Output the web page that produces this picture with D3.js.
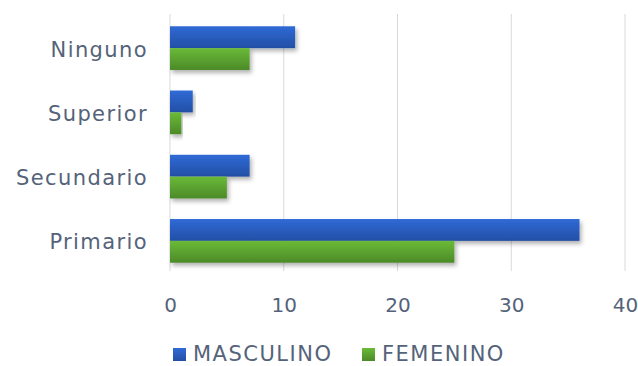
<!DOCTYPE html>
<html>
<head>
<meta charset="utf-8">
<script src="https://cdn.jsdelivr.net/npm/d3@7"></script>
<style>
  html, body { margin: 0; padding: 0; background: #fff; }
  svg { display: block; }
</style>
</head>
<body>
<svg id="chart" width="638" height="366"></svg>
<script>
// Education level by sex
const categories = ["Ninguno", "Superior", "Secundario", "Primario"];
const seriesNames = ["MASCULINO", "FEMENINO"];
const masculino = [11, 2, 7, 36];
const femenino = [7, 1, 5, 25];
const xTicks = [0, 10, 20, 30, 40];

const svg = d3.select("#chart");
const plotLeft = 170, plotRight = 625, plotTop = 16, plotBottom = 273;
const textColor = "#54637a";
const fontFamily = "'DejaVu Sans', Lato, sans-serif";

const x = d3.scaleLinear().domain([0, 40]).range([plotLeft, plotRight]);
const y = d3.scaleBand().domain(categories).range([plotTop, plotBottom]).paddingInner(0.32).paddingOuter(0.16);
const ySub = d3.scaleBand().domain(seriesNames).range([0, y.bandwidth()]);

const defs = svg.append("defs");
const grads = [
  { id: "gBlue", c0: "#2f6ad6", c1: "#234fa5" },
  { id: "gGreen", c0: "#6aba38", c1: "#4c8a28" }
];
grads.forEach(g => {
  const lg = defs.append("linearGradient").attr("id", g.id)
    .attr("x1", 0).attr("y1", 0).attr("x2", 0).attr("y2", 1);
  lg.append("stop").attr("offset", "0%").attr("stop-color", g.c0);
  lg.append("stop").attr("offset", "100%").attr("stop-color", g.c1);
});
const f = defs.append("filter").attr("id", "shadow")
  .attr("x", "-5%").attr("y", "-20%").attr("width", "115%").attr("height", "160%");
f.append("feDropShadow").attr("dx", 2).attr("dy", 3).attr("stdDeviation", 2)
  .attr("flood-color", "#000").attr("flood-opacity", 0.3);

// vertical gridlines
svg.append("g").selectAll("line").data(xTicks).join("line")
  .attr("x1", d => x(d)).attr("x2", d => x(d))
  .attr("y1", plotTop - 2).attr("y2", plotBottom - 2)
  .attr("stroke", "#d9d9d9").attr("stroke-width", 1);

const series = [
  { name: "MASCULINO", values: masculino, fill: "url(#gBlue)" },
  { name: "FEMENINO", values: femenino, fill: "url(#gGreen)" }
];

const bars = svg.append("g");
series.forEach(s => {
  bars.append("g").selectAll("rect").data(categories).join("rect")
    .attr("x", x(0))
    .attr("y", (c) => y(c) + ySub(s.name))
    .attr("width", (c, i) => x(s.values[i]) - x(0))
    .attr("height", ySub.bandwidth())
    .attr("fill", s.fill)
    .attr("filter", "url(#shadow)");
});

// category axis
const yAxis = svg.append("g").attr("transform", `translate(${plotLeft},0)`)
  .call(d3.axisLeft(y).tickSize(0).tickPadding(22));
yAxis.select(".domain").remove();
yAxis.attr("font-family", fontFamily);
yAxis.selectAll("text").attr("fill", textColor).attr("font-size", 21)
  .attr("letter-spacing", 1.4).attr("dy", "0.4em");

// value axis
const xAxis = svg.append("g").attr("transform", `translate(0,${plotBottom + 18})`)
  .call(d3.axisBottom(x).tickValues(xTicks).tickSize(0).tickPadding(4));
xAxis.select(".domain").remove();
xAxis.attr("font-family", fontFamily);
xAxis.selectAll("text").attr("fill", textColor).attr("font-size", 20)
  .attr("dy", null).attr("y", 21);

// legend
const legend = svg.append("g").attr("font-family", fontFamily);
const legendX = [173, 362];
series.forEach((s, i) => {
  const g = legend.append("g").attr("transform", `translate(${legendX[i]},348)`);
  g.append("rect").attr("x", 0).attr("y", 0).attr("width", 13).attr("height", 13).attr("fill", s.fill);
  g.append("text").attr("x", 20).attr("y", 13).attr("fill", textColor)
    .attr("font-size", 21).attr("letter-spacing", 1.5).text(s.name);
});
</script>
</body>
</html>
